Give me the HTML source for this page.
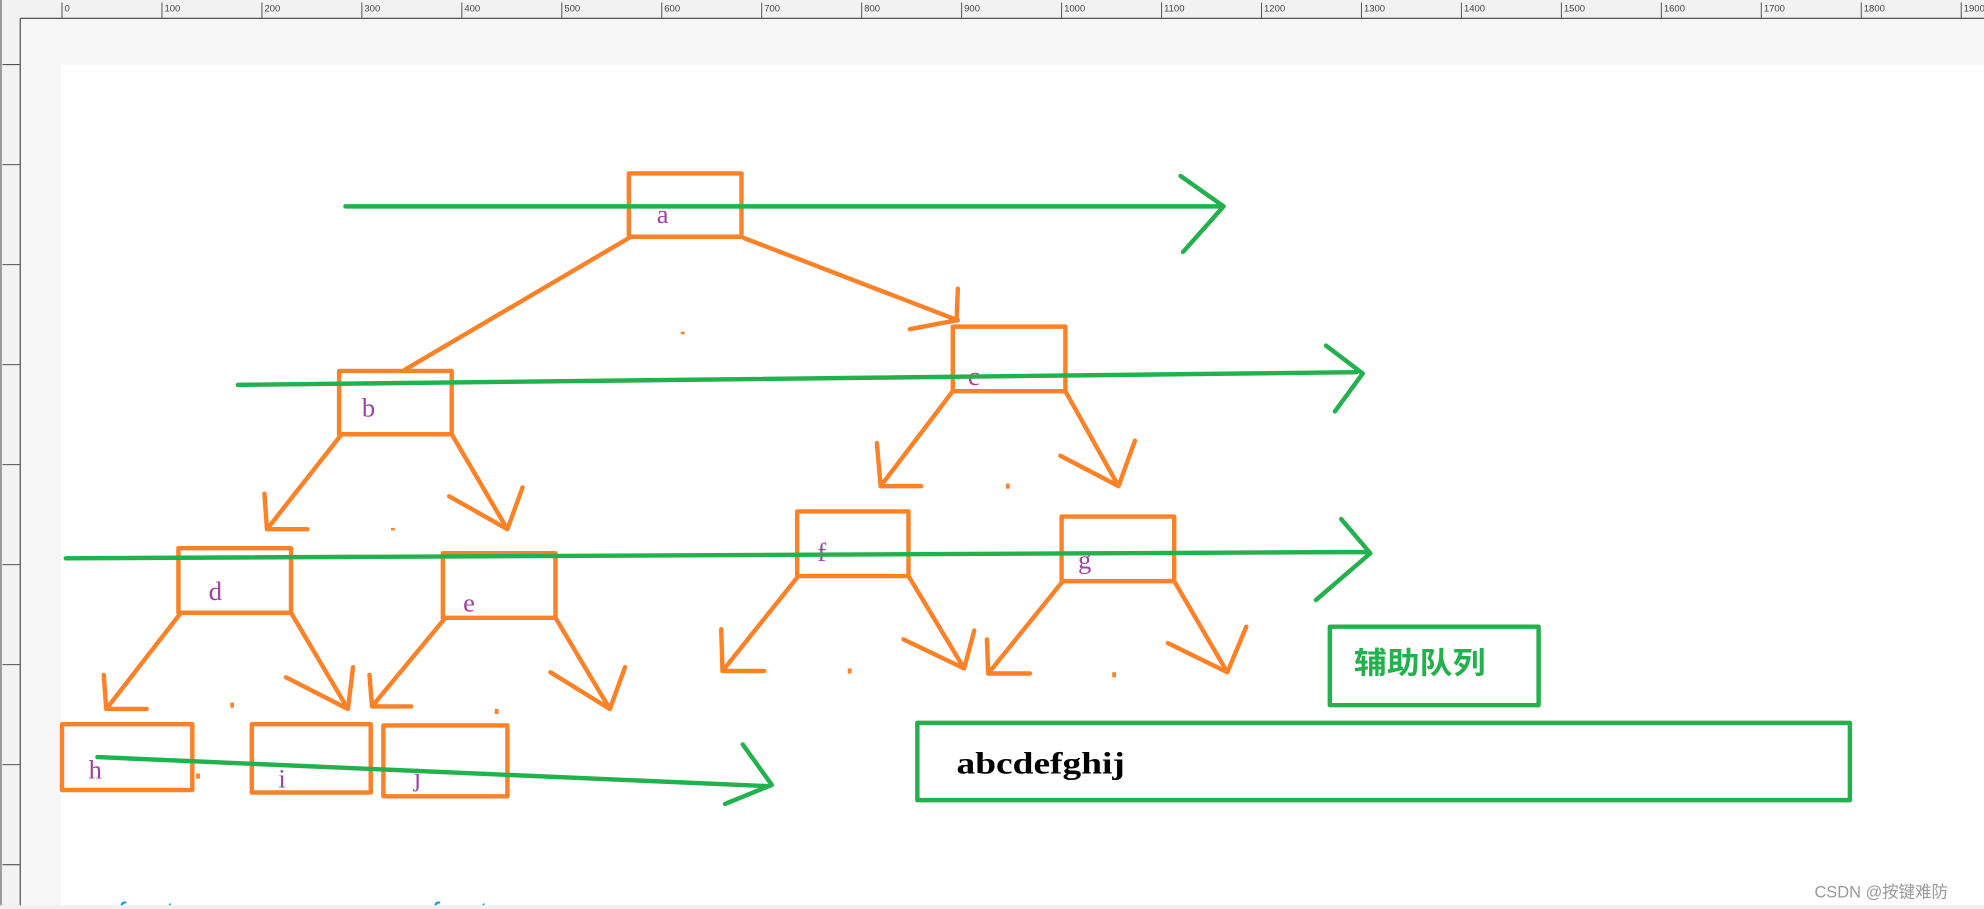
<!DOCTYPE html>
<html><head><meta charset="utf-8"><style>
html,body{margin:0;padding:0;width:1984px;height:909px;overflow:hidden;background:#fff}
svg{display:block}
</style></head><body>
<svg width="1984" height="909" viewBox="0 0 1568 718" preserveAspectRatio="none" xmlns="http://www.w3.org/2000/svg">
<rect x="0" y="0" width="1568" height="718" fill="#f6f6f6"/>
<rect x="48" y="51" width="1520" height="664" fill="#fff"/>
<rect x="0" y="0" width="1568" height="14.5" fill="#f2f2f2"/>
<line x1="16" y1="14.5" x2="1568" y2="14.5" stroke="#555" stroke-width="1"/>
<rect x="0" y="14.5" width="16" height="704" fill="#f2f2f2"/>
<line x1="16" y1="14.5" x2="16" y2="718" stroke="#555" stroke-width="1"/>
<rect x="0" y="0" width="1.5" height="718" fill="#999"/>
<g stroke="#555" stroke-width="0.8">
<path d="M49 2V14.5M128 2V14.5M207 2V14.5M286 2V14.5M365 2V14.5M444 2V14.5M523 2V14.5M602 2V14.5M681 2V14.5M760 2V14.5M839 2V14.5M918 2V14.5M997 2V14.5M1076 2V14.5M1155 2V14.5M1234 2V14.5M1313 2V14.5M1392 2V14.5M1471 2V14.5M1550 2V14.5"/>
<path d="M2 51H16M2 130H16M2 209H16M2 288H16M2 367H16M2 446H16M2 525H16M2 604H16M2 683H16"/>
</g>
<g font-family="Liberation Sans, sans-serif" font-size="7.5" fill="#444">
<text x="51" y="9">0</text><text x="130" y="9">100</text><text x="209" y="9">200</text><text x="288" y="9">300</text><text x="367" y="9">400</text><text x="446" y="9">500</text><text x="525" y="9">600</text><text x="604" y="9">700</text><text x="683" y="9">800</text><text x="762" y="9">900</text><text x="841" y="9">1000</text><text x="920" y="9">1100</text><text x="999" y="9">1200</text><text x="1078" y="9">1300</text><text x="1157" y="9">1400</text><text x="1236" y="9">1500</text><text x="1315" y="9">1600</text><text x="1394" y="9">1700</text><text x="1473" y="9">1800</text><text x="1552" y="9">1900</text>
</g>
<g fill="none" stroke="#fd8127" stroke-width="3.5" stroke-linecap="round" stroke-linejoin="round">
<rect x="497" y="137" width="89" height="50"/>
<rect x="753" y="258" width="89" height="51"/>
<rect x="268" y="293" width="89" height="50"/>
<rect x="141" y="433" width="89" height="51"/>
<rect x="350" y="437" width="89" height="51"/>
<rect x="630" y="404" width="88" height="51"/>
<rect x="839" y="408" width="89" height="51"/>
<rect x="49" y="572" width="103" height="52"/>
<rect x="199" y="572" width="94" height="54"/>
<rect x="303" y="573" width="98" height="56"/>
<path d="M497 188L320 292"/>
<path d="M588 188L757 253M757 228L756 253L719 260"/>
<path d="M270 343L211 418M209 390L211 418L243 418"/>
<path d="M357 343L401 418M355 392L401 418L413 385"/>
<path d="M753 309L696 384M693 350L696 384L728 384"/>
<path d="M842 309L884 384M838 360L884 384L897 348"/>
<path d="M143 484L84 560M82 533L84 560L116 560"/>
<path d="M230 484L275 560M226 535L275 560L279 527"/>
<path d="M352 488L294 558M292 533L294 558L325 558"/>
<path d="M439 488L482 560M435 531L482 560L494 527"/>
<path d="M631 455L571 530M570 497L571 530L604 530"/>
<path d="M718 455L762 528M714 505L762 528L770 498"/>
<path d="M840 459L781 532M780 505L781 532L814 532"/>
<path d="M928 459L970 531M923 508L970 531L985 495"/>
</g>
<g fill="#fd8127">
<rect x="538" y="262" width="3" height="2"/><rect x="795" y="382" width="3" height="4"/><rect x="309" y="417" width="3" height="2"/><rect x="182" y="555" width="3" height="4"/><rect x="391" y="560" width="3" height="4"/><rect x="670" y="528" width="3" height="4"/><rect x="879" y="531" width="3" height="4"/><rect x="155" y="611" width="3" height="4"/>
</g>
<g font-family="Liberation Serif, serif" font-size="21" fill="#a040a0">
<text x="519" y="176">a</text><text x="765" y="304">c</text><text x="286" y="329">b</text><text x="165" y="474">d</text><text x="366" y="483">e</text><text x="646" y="443">f</text><text x="852" y="449">g</text><text x="70" y="615">h</text><text x="220" y="622">i</text><text x="327" y="621">j</text>
</g>
<g fill="none" stroke="#22b14c" stroke-width="3.5" stroke-linecap="round" stroke-linejoin="round">
<path d="M273 163L965 163M933 139L967 163L935 199"/>
<path d="M188 304L1072 294M1048 273L1077 295L1055 325"/>
<path d="M52 441L1082 436M1060 410L1083 437L1040 474"/>
<path d="M77 598L608 621M587 588L610 620L573 635"/>
<rect x="1051" y="495" width="165" height="62"/>
<rect x="725" y="571" width="737" height="61"/>
</g>
<text x="1070" y="532" font-family="Liberation Sans, Noto Sans CJK SC, sans-serif" font-size="24" font-weight="bold" fill="#22b14c" textLength="104" lengthAdjust="spacingAndGlyphs">辅助队列</text>
<text x="756" y="611" font-family="Liberation Serif, serif" font-size="24" font-weight="bold" fill="#000" textLength="133" lengthAdjust="spacingAndGlyphs">abcdefghij</text>
<text x="92" y="728" font-family="Liberation Sans, sans-serif" font-size="22" font-style="italic" fill="#0aa0e0">front</text>
<text x="340" y="728" font-family="Liberation Sans, sans-serif" font-size="22" font-style="italic" fill="#0aa0e0">front</text>
<text x="1434" y="709" font-family="Liberation Sans, Noto Sans CJK SC, sans-serif" font-size="13" fill="#999">CSDN @按键难防</text>
<rect x="0" y="715" width="1568" height="3" fill="#f0f0f0"/>
</svg>
</body></html>
